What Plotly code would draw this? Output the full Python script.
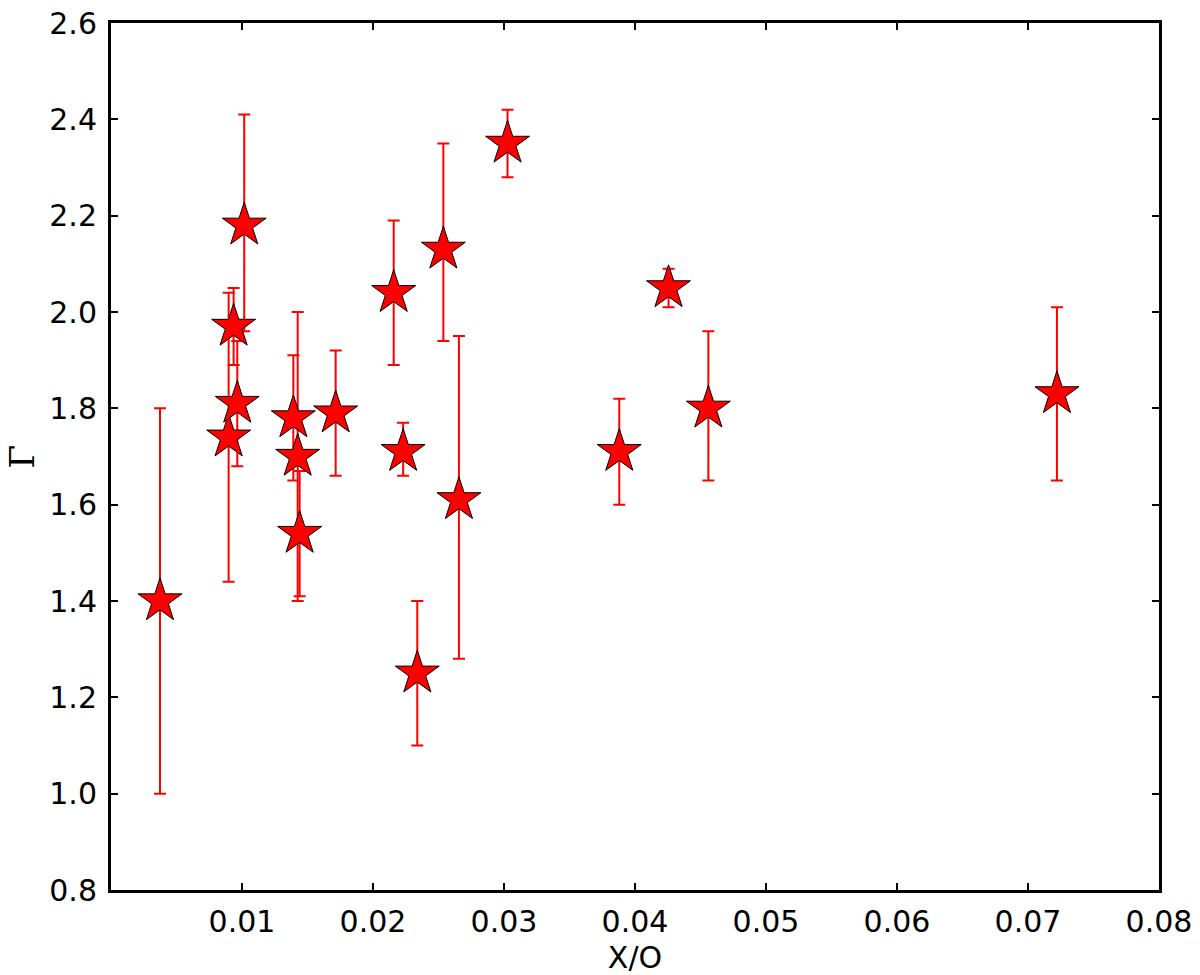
import plotly.graph_objects as go

# X/O ratio and photon index with asymmetric errors
xo_ratio = [0.00374, 0.00898, 0.00936, 0.00964, 0.01017, 0.01392, 0.01425, 0.01440,
            0.01715, 0.02158, 0.02230, 0.02338, 0.02537, 0.02656, 0.03027, 0.03880,
            0.04256, 0.04560, 0.07221]
gamma = [1.40, 1.74, 1.97, 1.81, 2.18, 1.78, 1.70, 1.54,
         1.79, 2.04, 1.71, 1.25, 2.13, 1.61, 2.35, 1.71,
         2.05, 1.80, 1.83]
err_up = [0.40, 0.30, 0.08, 0.13, 0.23, 0.13, 0.30, 0.13,
          0.13, 0.15, 0.06, 0.15, 0.22, 0.34, 0.07, 0.11,
          0.04, 0.16, 0.18]
err_down = [0.40, 0.30, 0.08, 0.13, 0.22, 0.13, 0.30, 0.13,
            0.13, 0.15, 0.05, 0.15, 0.19, 0.33, 0.07, 0.11,
            0.04, 0.15, 0.18]

x_ticks = [0.01, 0.02, 0.03, 0.04, 0.05, 0.06, 0.07, 0.08]
y_ticks = [0.8, 1.0, 1.2, 1.4, 1.6, 1.8, 2.0, 2.2, 2.4, 2.6]

fig = go.Figure()
fig.add_trace(go.Scatter(
    x=xo_ratio,
    y=gamma,
    mode='markers',
    marker=dict(symbol='star', size=33, color='red',
                line=dict(color='black', width=1)),
    error_y=dict(type='data', symmetric=False, array=err_up, arrayminus=err_down,
                 color='red', thickness=2, width=6),
    showlegend=False,
))

axis_style = dict(
    showline=True, linewidth=3, linecolor='black', mirror='ticks',
    ticks='inside', ticklen=7, tickwidth=2, tickcolor='black',
    showgrid=False, zeroline=False, automargin=False,
    ticklabeloverflow='allow',
    tickfont=dict(family='DejaVu Sans', size=30, color='black'),
)

# page body has an 8px margin, so the figure is a bit smaller than the window
fig.update_layout(
    width=1192, height=967,
    margin=dict(l=103, r=41, t=15, b=85),
    paper_bgcolor='white',
    plot_bgcolor='white',
    font=dict(family='DejaVu Sans', color='black'),
    xaxis=dict(range=[0, 0.08], tickvals=x_ticks, ticktext=[f'{v:.2f}' for v in x_ticks],
               ticklabelstandoff=3,
               title=dict(text='X/O', font=dict(size=30), standoff=16),
               **axis_style),
    yaxis=dict(range=[0.8, 2.6], tickvals=y_ticks, ticktext=[f'{v:.1f}' for v in y_ticks],
               ticklabelstandoff=5,
               **axis_style),
)

# y label placed by hand, rotated like matplotlib's ylabel
fig.add_annotation(
    text='Γ', xref='paper', yref='paper', x=0, y=0.5,
    xanchor='center', yanchor='middle', xshift=-90, textangle=-90,
    showarrow=False, font=dict(size=34, family='DejaVu Serif', color='black'),
)

fig.write_html("out.html")
